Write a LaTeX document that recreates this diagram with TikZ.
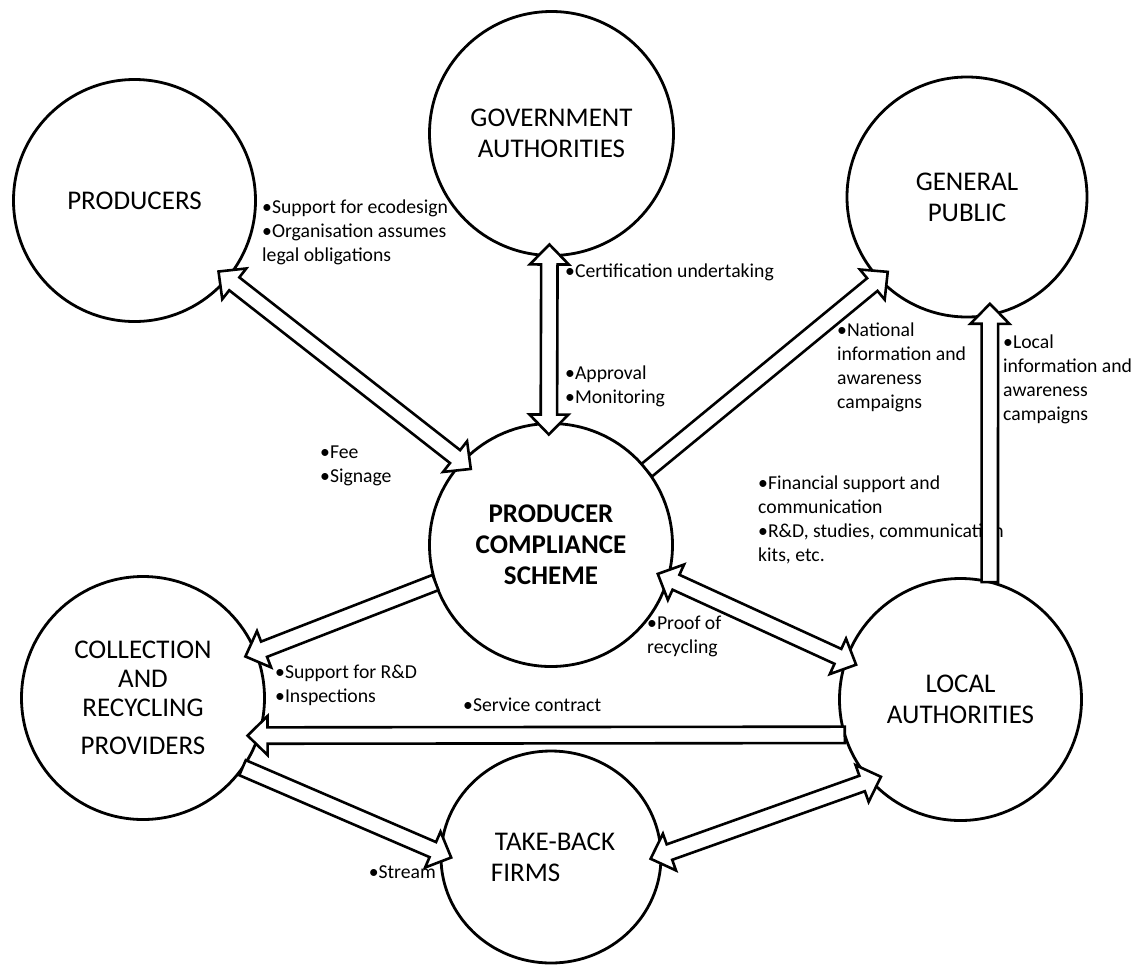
\documentclass[tikz,border=0pt]{standalone}
\usepackage{fontspec}
\setmainfont{Carlito}
\usetikzlibrary{calc,shapes.geometric}

\begin{document}
\begin{tikzpicture}[x=1pt, y=-1pt,
    actor/.style={circle, draw, line width=2.8pt, minimum size=#1, inner sep=0pt, outer sep=0pt, align=center, font=\fontsize{27}{31}\selectfont},
    note/.style={anchor=north west, inner sep=0pt, align=left, font=\fontsize{19.7}{24}\selectfont},
    oneway/.style={draw, fill=white, line width=2.6pt, to path={
        let \p1=(\tikztostart), \p2=($(\tikztotarget)!-11pt!(\tikztostart)$), \p3=($(\p2)!20pt!(\p1)$) in
        (\p1) -- ($(\p1)!8.2pt!90:(\p2)$) -- ($(\p3)!8.2pt!90:(\p2)$) -- ($(\p3)!19.5pt!90:(\p2)$) -- (\p2)
        -- ($(\p3)!19.5pt!-90:(\p2)$) -- ($(\p3)!8.2pt!-90:(\p2)$) -- ($(\p1)!8.2pt!-90:(\p2)$) -- cycle}},
    twoway/.style={draw, fill=white, line width=2.6pt, to path={
        let \p1=($(\tikztostart)!-11pt!(\tikztotarget)$), \p2=($(\tikztotarget)!-11pt!(\tikztostart)$),
            \p3=($(\p2)!20pt!(\p1)$), \p4=($(\p1)!20pt!(\p2)$) in
        (\p1) -- ($(\p4)!19.5pt!90:(\p2)$) -- ($(\p4)!8.2pt!90:(\p2)$) -- ($(\p3)!8.2pt!90:(\p2)$) -- ($(\p3)!19.5pt!90:(\p2)$) -- (\p2)
        -- ($(\p3)!19.5pt!-90:(\p2)$) -- ($(\p3)!8.2pt!-90:(\p2)$) -- ($(\p4)!8.2pt!-90:(\p2)$) -- ($(\p4)!19.5pt!-90:(\p2)$) -- cycle}}]
    \useasboundingbox (0,0) rectangle (1144,967);

    % Actors
    \node[actor=242pt] (prod) at (134.5,200.5) {PRODUCERS};
    \node[actor=244pt] (gov) at (551.5,133.5) {GOVERNMENT\\AUTHORITIES};
    \node[actor=240pt] (pub) at (967,197) {GENERAL\\PUBLIC};
    \node[actor=243pt, font=\fontsize{27}{31}\selectfont\bfseries] (pcs) at (551,545) {PRODUCER\\COMPLIANCE\\SCHEME};
    \node[actor=243pt, font=\fontsize{27}{29}\selectfont] (col) at (143,698) {COLLECTION\\AND\\RECYCLING\\[9pt]PROVIDERS};
    \node[actor=242pt] (loc) at (960.5,699.5) {LOCAL\\AUTHORITIES};
    \node[actor=0pt, ellipse, minimum width=220pt, minimum height=212pt, align=left] (tbf) at (551,857) {\hspace*{8pt}TAKE-BACK\\\hspace*{4pt}FIRMS};

    % Flow notes
    \node[note] (ecolbl) at (262,200) {\textbullet Support for ecodesign\\\textbullet Organisation assumes\\legal obligations};
    \node[note] (certlbl) at (565,264) {\textbullet Certification undertaking};
    \node[note] (apprlbl) at (565,366) {\textbullet Approval\\\textbullet Monitoring};
    \node[note] (feelbl) at (320,446) {\textbullet Fee\\\textbullet Signage};
    \node[note] (natlbl) at (837,323) {\textbullet National\\information and\\awareness\\campaigns};
    \node[note] (loclbl) at (1003,335) {\textbullet Local\\information and\\awareness\\campaigns};
    \node[note] (finlbl) at (758,476) {\textbullet Financial support and\\communication\\\textbullet R\&D, studies, communication\\kits, etc.};
    \node[note] (prooflbl) at (647,616) {\textbullet Proof of\\recycling};
    \node[note] (rdlbl) at (275,665) {\textbullet Support for R\&D\\\textbullet Inspections};
    \node[note] (servlbl) at (463,698) {\textbullet Service contract};
    \node[note, anchor=north east] (streamlbl) at (436,866) {\textbullet Stream};

    % Flows
    \draw[twoway] (prod.-40) to (pcs.137);
    \draw[twoway] (gov.-91) to (pcs.91);
    \draw[oneway] (pcs.38) to (pub.-137);
    \draw[oneway] (loc.76) to (pub.-79);
    \draw[oneway] (pcs.198) to (col.22);
    \draw[twoway] (pcs.-16) to (loc.161);
    \draw[oneway] (loc.197.6) to (col.-18.7);
    \draw[oneway] (col.-35) to (tbf.178);
    \draw[twoway] (tbf.1) to (loc.-138);
\end{tikzpicture}
\end{document}
